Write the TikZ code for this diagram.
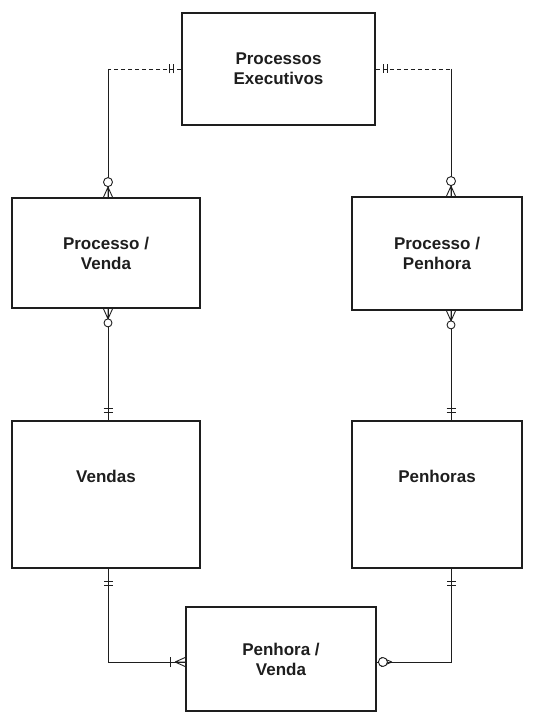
\documentclass[tikz,border=0pt]{standalone}
\usepackage{fontspec}
\setmainfont{Liberation Sans}
\usetikzlibrary{calc}
\definecolor{ink}{HTML}{1E1E1E}
\tikzset{
  ent/.style={draw=ink, line width=1.8pt, rectangle, inner sep=0pt,
    font=\fontsize{17}{20}\selectfont\bfseries, text=ink, align=center},
  txt/.style={font=\fontsize{17}{20}\selectfont\bfseries, text=ink, align=center, inner sep=0pt},
  conn/.style={draw=ink, line width=0.9pt},
  optconn/.style={conn, dash pattern=on 4pt off 3pt},
  mk/.style={draw=ink, line width=0.9pt},
  crowcirc/.pic={
    \draw[mk] (10,0) -- (0,4.5) (10,0) -- (0,-4.5) (0,0) -- (10,0);
    \draw[mk, fill=white] (15,0) circle (4.5pt);
  },
  crowcircb/.pic={
    \draw[mk] (10,0) -- (0,4.5) (10,0) -- (0,-4.5) (0,0) -- (10,0);
    \draw[mk, fill=white] (14,0) circle (4pt);
  },
  dbar/.pic={
    \draw[mk] (8,-4.5) -- (8,4.5) (12,-4.5) -- (12,4.5);
  },
  dbarb/.pic={
    \draw[mk] (13,-4.5) -- (13,4.5) (17,-4.5) -- (17,4.5);
  },
  crowbar/.pic={
    \draw[mk] (10,0) -- (0,4.5) (10,0) -- (0,-4.5) (0,0) -- (10,0);
    \draw[mk] (15,-5) -- (15,5);
  },
  circcrow/.pic={
    \draw[mk] (15,0) -- (4,4.5) (15,0) -- (4,-4.5);
    \draw[mk, fill=white] (6,0) circle (4.5pt);
  },
}
\begin{document}
\begin{tikzpicture}[x=1pt, y=-1pt]
\useasboundingbox (0,0) rectangle (537,714);

% entities
\node[ent, minimum width=193pt, minimum height=112pt] (pe) at (278.5,69) {Processos\\Executivos};
\node[ent, minimum width=188pt, minimum height=110pt] (pv) at (106,253) {Processo /\\Venda};
\node[ent, minimum width=170pt, minimum height=113pt] (pp) at (437,253.5) {Processo /\\Penhora};
\node[ent, minimum width=188pt, minimum height=147pt] (ve) at (106,494.5) {};
\node[txt] (vet) at (106,476) {Vendas};
\node[ent, minimum width=170pt, minimum height=147pt] (ph) at (437,494.5) {};
\node[txt] (pht) at (437,476) {Penhoras};
\node[ent, minimum width=190pt, minimum height=104pt] (pw) at (281,659) {Penhora /\\Venda};

% corner coordinates
\coordinate (c1) at (108,69);
\coordinate (c2) at (451,69);
\coordinate (c3) at (108,662);
\coordinate (c4) at (451,662);

% connectors
\draw[optconn] (pe.west) -- (c1);
\draw[conn] (c1) -- (c1 |- pv.north);
\draw[optconn] (pe.east) -- (c2);
\draw[conn] (c2) -- (c2 |- pp.north);
\draw[conn] (c1 |- pv.south) -- (c1 |- ve.north);
\draw[conn] (c2 |- pp.south) -- (c2 |- ph.north);
\draw[conn] (c1 |- ve.south) -- (c3) -- (c3 -| pw.west);
\draw[conn] (c2 |- ph.south) -- (c4) -- (c4 -| pw.east);

% end marks
\pic[rotate=180] at (pe.west) {dbar};
\pic at (pe.east) {dbar};
\pic[rotate=90] at (c1 |- pv.north) {crowcirc};
\pic[rotate=90] at (c2 |- pp.north) {crowcirc};
\pic[rotate=-90] at (c1 |- pv.south) {crowcircb};
\pic[rotate=-90] at (c2 |- pp.south) {crowcircb};
\pic[rotate=90] at (c1 |- ve.north) {dbar};
\pic[rotate=90] at (c2 |- ph.north) {dbar};
\pic[rotate=-90] at (c1 |- ve.south) {dbarb};
\pic[rotate=-90] at (c2 |- ph.south) {dbarb};
\pic[rotate=180] at (c3 -| pw.west) {crowbar};
\pic at (c4 -| pw.east) {circcrow};
\end{tikzpicture}
\end{document}
